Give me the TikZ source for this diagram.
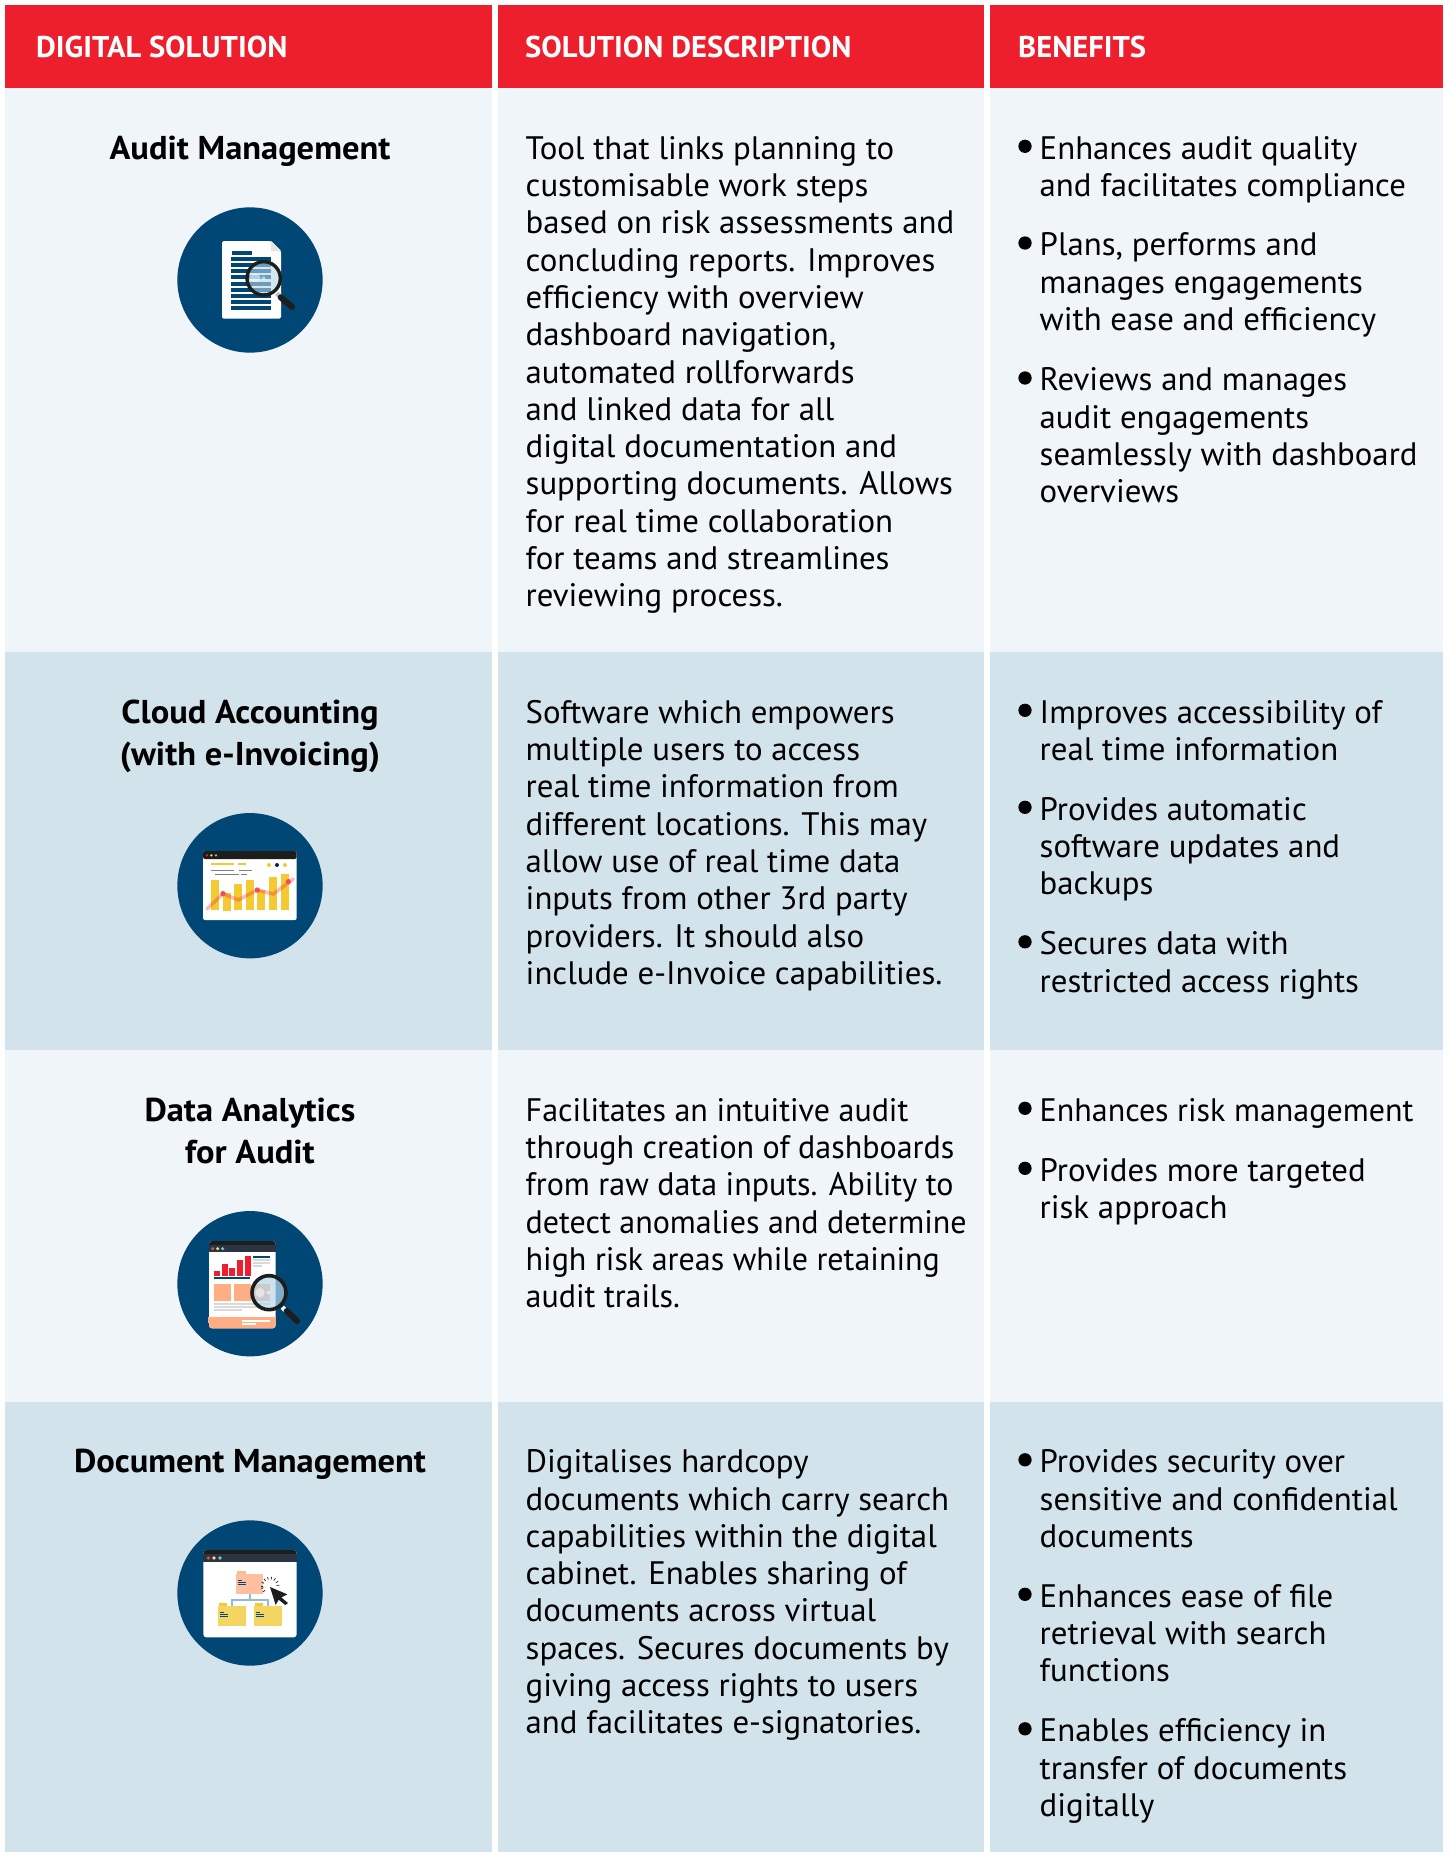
\documentclass[tikz,border=0pt]{standalone}
\usepackage{fontspec}
\usetikzlibrary{calc}
\setmainfont{PT Sans}[FakeStretch=1.01]
\newfontfamily\titlef{PT Sans}[FakeStretch=1.045]
\newfontfamily\hdrf{PT Sans}[FakeStretch=1.02]
\newfontfamily\narrowf{PT Sans}[FakeStretch=0.985]
\definecolor{hdr}{HTML}{EE1F2D}
\definecolor{rowa}{HTML}{F0F5FA}
\definecolor{rowb}{HTML}{D3E3EC}
\definecolor{navy}{HTML}{004775}
\definecolor{ink}{HTML}{1D1D1B}
\definecolor{bar}{HTML}{F4C932}
\definecolor{peach}{HTML}{FFAD82}
\definecolor{peachl}{HTML}{FFBFA0}
\definecolor{folder}{HTML}{F5D561}
\definecolor{slatebar}{HTML}{2B3442}
\definecolor{greyl}{HTML}{D9D9D9}
\definecolor{lensc}{HTML}{B5D8EA}
\definecolor{dotr}{HTML}{D9533F}
\definecolor{doty}{HTML}{F7D774}
\definecolor{dotb}{HTML}{7EC4D6}
\definecolor{linkc}{HTML}{8FBCD9}
\tikzset{
  hdrtext/.style={anchor=base west,inner sep=0,text=white,font=\hdrf\fontsize{30}{30}\selectfont\bfseries},
  titletext/.style={anchor=north,inner sep=0,align=center,font=\titlef\fontsize{33}{42}\selectfont\bfseries},
  bodytext/.style={anchor=north west,inner sep=0,align=left,font=\fontsize{32.5}{37.3}\selectfont},
  narrowtext/.style={bodytext,font=\narrowf\fontsize{32.5}{37.3}\selectfont},
  bulletdot/.style={circle,fill=black,inner sep=0,minimum size=13.3pt},
  badge/.style={circle,fill=navy,inner sep=0,minimum size=436*0.3333pt},
  iconscope/.style={x=0.33333pt,y=-0.33333pt},
}
\newcommand{\fl}{\rule{0pt}{30pt}}
\newcommand{\benefit}[3]{%
  \node[bulletdot] (#1d) at (1025,#2-12.7) {};
  \node[bodytext] (#1) at (1039.5,#2-30) {\fl #3};
}
\begin{document}
\begin{tikzpicture}[x=1pt,y=-1pt]
\useasboundingbox (0,0) rectangle (1448,1852);
\fill[white] (0,0) rectangle (1448,1852);
% columns
\foreach \xa/\xb in {5/492,498/984,989.5/1443}{
  \fill[hdr] (\xa,5) rectangle (\xb,88);
  \fill[rowa] (\xa,88) rectangle (\xb,652);
  \fill[rowb] (\xa,652) rectangle (\xb,1050);
  \fill[rowa] (\xa,1050) rectangle (\xb,1402);
  \fill[rowb] (\xa,1402) rectangle (\xb,1852);
}
% header
\node[hdrtext] (h1) at (36,58) {DIGITAL SOLUTION};
\node[hdrtext] (h2) at (525,58) {SOLUTION DESCRIPTION};
\node[hdrtext] (h3) at (1018,58) {BENEFITS};
% titles
\node[titletext] (t1) at (250,129) {\fl Audit Management};
\node[titletext] (t2) at (250,693) {\fl Cloud Accounting\\(with e-Invoicing)};
\node[titletext] (t3) at (250,1091) {\fl Data Analytics\\for Audit};
\node[titletext] (t4) at (250,1442.5) {\fl Document Management};
% descriptions
\node[bodytext] (d1) at (525.5,129) {\fl Tool that links planning to\\customisable work steps\\based on risk assessments and\\concluding reports. Improves\\efficiency with overview\\dashboard navigation,\\automated rollforwards\\and linked data for all\\digital documentation and\\supporting documents. Allows\\for real time collaboration\\for teams and streamlines\\reviewing process.};
\node[bodytext] (d2) at (525.5,693) {\fl Software which empowers\\multiple users to access\\real time information from\\different locations. This may\\allow use of real time data\\inputs from other 3rd party\\providers. It should also\\include e-Invoice capabilities.};
\node[narrowtext] (d3) at (525.5,1091) {\fl Facilitates an intuitive audit\\through creation of dashboards\\from raw data inputs. Ability to\\detect anomalies and determine\\high risk areas while retaining\\audit trails.};
\node[bodytext] (d4) at (525.5,1442.5) {\fl Digitalises hardcopy\\documents which carry search\\capabilities within the digital\\cabinet. Enables sharing of\\documents across virtual\\spaces. Secures documents by\\giving access rights to users\\and facilitates e-signatories.};
% benefits
\benefit{b11}{159}{Enhances audit quality\\and facilitates compliance}
\benefit{b12}{255.7}{Plans, performs and\\manages engagements\\with ease and efficiency}
\benefit{b13}{390.7}{Reviews and manages\\audit engagements\\seamlessly with dashboard\\overviews}
\benefit{b21}{723}{Improves accessibility of\\real time information}
\benefit{b22}{820}{Provides automatic\\software updates and\\backups}
\benefit{b23}{954.5}{Secures data with\\restricted access rights}
\benefit{b31}{1121}{{\narrowf Enhances risk management}}
\benefit{b32}{1181}{Provides more targeted\\risk approach}
\benefit{b41}{1472.5}{Provides security over\\sensitive and confidential\\documents}
\benefit{b42}{1607}{Enhances ease of file\\retrieval with search\\functions}
\benefit{b43}{1741.5}{Enables efficiency in\\transfer of documents\\digitally}
% badges
\node[badge] (c1) at (250,280) {};
\node[badge] (c2) at (250,885.7) {};
\node[badge] (c3) at (250,1283.7) {};
\node[badge] (c4) at (250,1593) {};
% icon 1
\begin{scope}[xshift=160pt,yshift=-190pt,iconscope]
  \fill[white,rounded corners=1.5pt] (186,153) -- (333,153) -- (363,183) -- (363,386) -- (186,386) -- cycle;
  \fill[gray!20] (333,153) -- (363,183) -- (333,183) -- cycle;
  \fill[navy] (216,183) rectangle (276,195);
  \foreach \yy in {201,219,237,255,275,293,311,329,347}{\fill[navy] (213,\yy) rectangle (333,\yy+12);}
  \fill[lensc,opacity=.6] (311,265) circle (48);
  \fill[white,opacity=.5] (285,263) ellipse (17 and 12);
  \fill[white,opacity=.5] (311,265) circle (6);
  \draw[ink,line width=3.4pt] (311,265) circle (50);
  \draw[gray!50,line width=4.5pt] (350,310) -- (362,322);
  \draw[ink,line width=6pt,line cap=round] (362,322) -- (396,351);
\end{scope}
% icon 2
\begin{scope}[xshift=160pt,yshift=-800pt,iconscope]
  \fill[white,rounded corners=2pt] (129,153) rectangle (410,360);
  \fill[ink,rounded corners=2pt] (129,153) rectangle (410,177);
  \fill[hdr] (141,166) circle (4);
  \fill[bar] (154,166) circle (4);
  \fill[dotb] (168,166) circle (4);
  \fill[bar] (153,189) rectangle (222,195);
  \fill[bar] (234,189) rectangle (258,195);
  \fill[bar] (327,195) circle (6);
  \fill[navy!60!black] (351,195) circle (6);
  \fill[bar] (375,195) circle (6);
  \fill[gray] (153,210) rectangle (223,213);
  \fill[gray] (236,210) rectangle (277,213);
  \fill[gray] (165,222) rectangle (237,225);
  \fill[gray] (243,222) rectangle (262,225);
  \foreach \xl/\yt/\yb in {153/240/330,189/279/333,222/252/330,258/240/330,291/270/330,327/231/330,363/222/330}{
    \fill[bar] (\xl,\yt) rectangle (\xl+24,\yb);
  }
  \draw[hdr,opacity=.3,line width=3.5pt,line cap=round] (141,327) -- (189,281) -- (235,300) -- (292,270) -- (340,282) -- (400,237);
  \foreach \px/\py in {189/281,292/270,385/245}{\fill[red!70!purple!70!white] (\px,\py) circle (8);}
\end{scope}
% icon 3
\begin{scope}[xshift=160pt,yshift=-1195pt,iconscope]
  \fill[white,rounded corners=3pt] (147,138) rectangle (347,400);
  \fill[ink,rounded corners=3pt] (147,138) rectangle (347,160);
  \fill[slatebar] (147,150) rectangle (347,171);
  \fill[peach,rounded corners=3pt] (147,380) -- (147,400) -- (347,400) -- (347,380) -- cycle;
  \fill[peach] (145,366) rectangle (347,385);
  \fill[dotr] (158,161) circle (5);
  \fill[doty] (173,161) circle (5);
  \fill[dotb] (188,161) circle (5);
  \foreach \xl/\yt in {162/228,186/207,207/219,231/195,255/183}{\fill[hdr] (\xl,\yt) rectangle (\xl+18,243);}
  \fill[navy] (162,246) rectangle (270,252);
  \fill[navy] (279,183) rectangle (330,189);
  \fill[greyl] (279,192) rectangle (330,198);
  \fill[greyl] (279,201) rectangle (330,207);
  \fill[greyl] (279,210) rectangle (306,216);
  \fill[peach] (162,267) rectangle (213,318);
  \fill[peach] (222,267) rectangle (273,318);
  \fill[peach] (282,267) rectangle (330,318);
  \fill[greyl] (162,324) rectangle (330,330);
  \fill[greyl] (162,333) rectangle (300,339);
  \fill[greyl] (162,342) rectangle (246,348);
  \fill[white] (246,375) rectangle (330,381);
  \fill[white] (246,384) rectangle (288,390);
  \fill[lensc,opacity=.7] (327,293) circle (50);
  \fill[white,opacity=.5] (300,293) circle (14);
  \fill[white,opacity=.5] (326,293) circle (6);
  \draw[ink,line width=3.6pt] (327,293) circle (51);
  \draw[white,line width=4.5pt] (367,337) -- (378,348);
  \draw[ink,line width=6pt,line cap=round] (380,348) -- (411,378);
\end{scope}
% icon 4
\begin{scope}[xshift=160pt,yshift=-1505pt,iconscope]
  \fill[white,rounded corners=3pt] (130,135) rectangle (410,397);
  \fill[ink,rounded corners=3pt] (130,135) rectangle (410,155);
  \fill[slatebar] (130,147) rectangle (410,171);
  \fill[dotr] (145,159) circle (5.5);
  \fill[doty] (162,159) circle (5.5);
  \fill[dotb] (180,159) circle (5.5);
  \draw[linkc,line width=1.7pt] (270,267) -- (270,285) (216,303) -- (216,285) -- (324,285) -- (324,303);
  \fill[peach!85!white] (231,198) rectangle (258,215);
  \fill[peachl] (228,207) rectangle (309,267);
  \foreach \lx/\ly/\lw in {234/225/12,234/231/24,234/237/24}{\fill[navy] (\lx,\ly) rectangle (\lx+\lw,\ly+3);}
  \foreach \fx in {174,282}{
    \fill[bar] (\fx+3,294) rectangle (\fx+27,310);
    \fill[folder] (\fx,303) rectangle (\fx+84,363);
    \fill[navy] (\fx+6,321) rectangle (\fx+18,324);
    \fill[navy] (\fx+6,327) rectangle (\fx+30,330);
    \fill[navy] (\fx+6,333) rectangle (\fx+30,336);
  }
  \fill[white] (330,242) circle (22);
  \foreach \aa in {-180,-155,-130,-105,-80,-55,-30,-5,140,165}{
    \draw[ink,line width=.7pt] ($(330,243)+(\aa:20)$) -- ($(330,243)+(\aa:28)$);
  }
  \fill[ink] (330,246) -- (382,268) -- (364,277) -- (384,294) -- (376,300) -- (356,284) -- (347,300) -- cycle;
\end{scope}
\end{tikzpicture}
\end{document}
